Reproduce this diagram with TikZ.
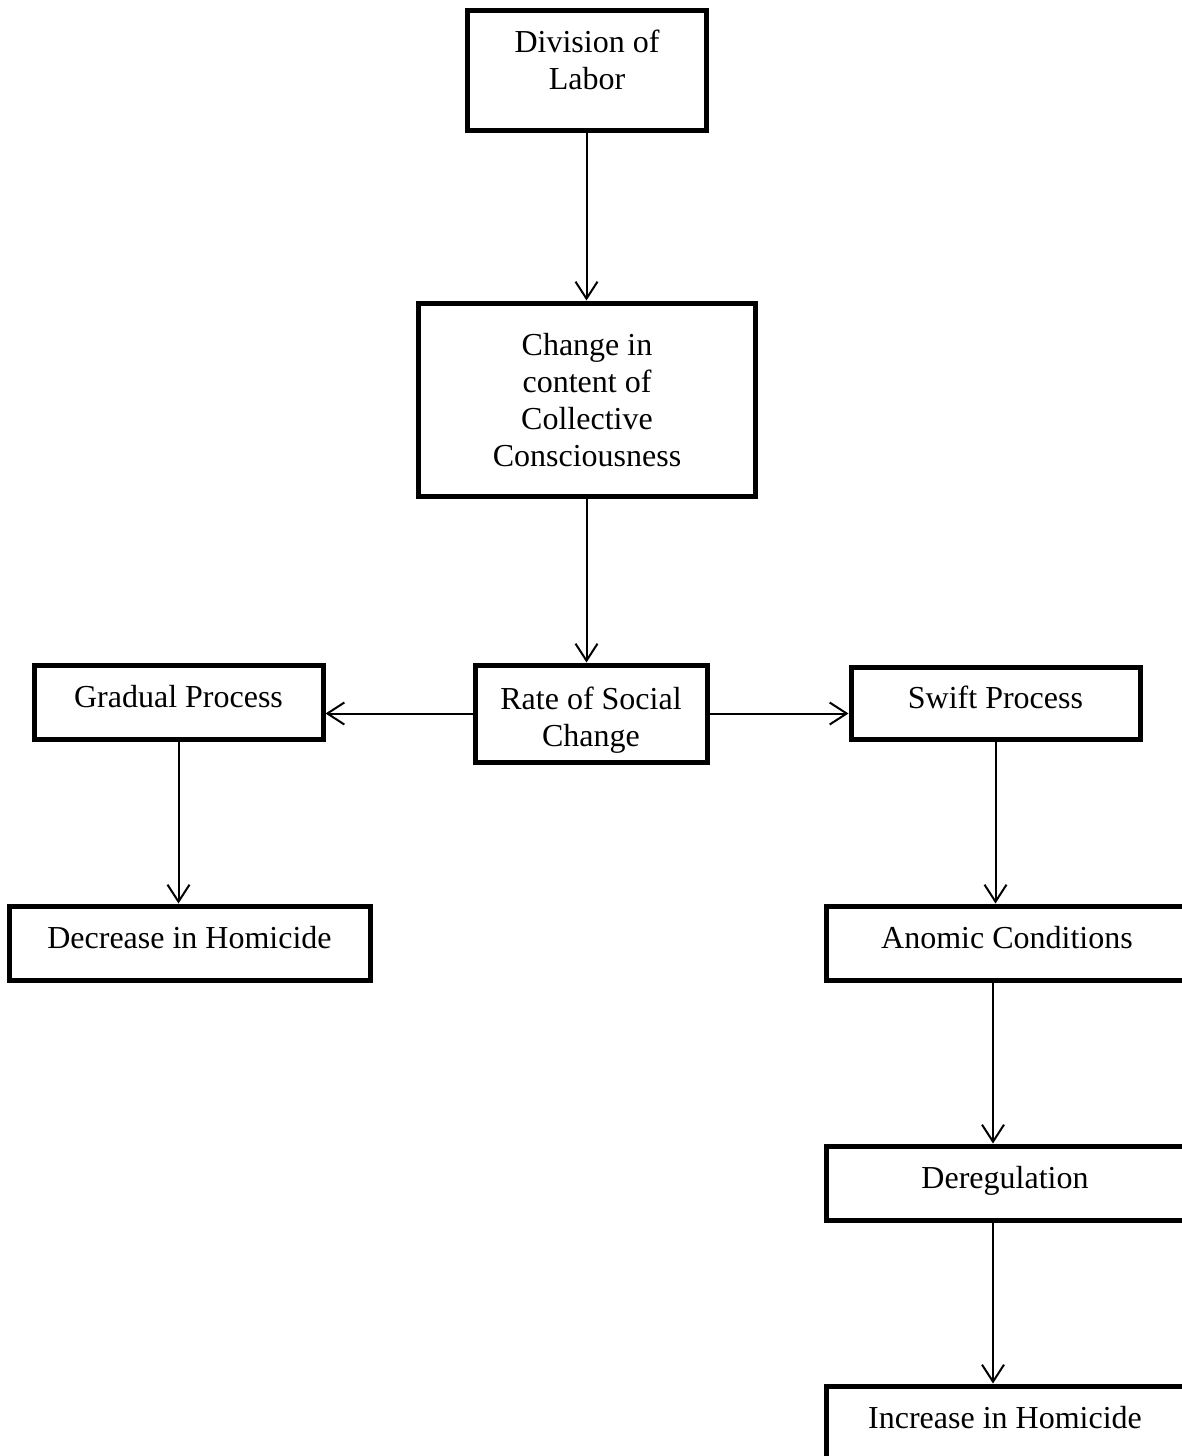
\documentclass[tikz,border=0pt]{standalone}
\usepackage{fontspec}
\setmainfont{Liberation Serif}
\usetikzlibrary{arrows.meta}
\begin{document}
\begin{tikzpicture}[x=1pt,y=-1pt,
  boxnode/.style={draw,line width=5pt,rectangle,inner sep=0pt},
  lbl/.style={align=center,inner sep=0pt,font=\fontsize{32}{37}\selectfont},
  conn/.style={line width=2pt,-{Straight Barb[length=17pt,width=22pt,line width=2pt]}}]
\useasboundingbox (0,0) rectangle (1182,1456);
\clip (0,0) rectangle (1182,1456);
% boxes
\node[boxnode,minimum width=239pt,minimum height=120pt] (div) at (586.5,70) {};
\node[boxnode,minimum width=337pt,minimum height=193pt] (chg) at (586.5,399.5) {};
\node[boxnode,minimum width=232pt,minimum height=97pt] (rate) at (591,713.5) {};
\node[boxnode,minimum width=289pt,minimum height=74pt] (grad) at (178.5,702) {};
\node[boxnode,minimum width=289pt,minimum height=72pt] (swift) at (995.5,703) {};
\node[boxnode,minimum width=361pt,minimum height=74pt] (dec) at (189.5,943) {};
\node[boxnode,minimum width=362pt,minimum height=74pt] (anom) at (1007,943) {};
\node[boxnode,minimum width=362pt,minimum height=74pt] (dereg) at (1007,1183) {};
\node[boxnode,minimum width=362pt,minimum height=74pt] (inc) at (1007,1423) {};
% texts
\node[lbl] (tdiv) at (587,60) {Division of\\Labor};
\node[lbl] (tchg) at (587,400.5) {Change in\\content of\\Collective\\Consciousness};
\node[lbl] (trate) at (591,720) {Rate of Social\\Change};
\node[lbl] (tgrad) at (178.5,697) {Gradual Process};
\node[lbl] (tswift) at (995.5,697) {Swift Process};
\node[lbl] (tdec) at (189.5,938) {Decrease in Homicide};
\node[lbl] (tanom) at (1007,938) {Anomic Conditions};
\node[lbl] (tdereg) at (1005,1181) {Deregulation};
\node[lbl] (tinc) at (1005,1418) {Increase in Homicide};
% connectors
\draw[conn] (div.south) -- (chg.north);
\draw[conn] (chg.south) -- (chg.south |- rate.north);
\draw[conn] (rate.west) -- (rate.west -| grad.east);
\draw[conn] (rate.east) -- (rate.east -| swift.west);
\draw[conn] (grad.south) -- (grad.south |- dec.north);
\draw[conn] (swift.south) -- (swift.south |- anom.north);
\coordinate (a1) at ([xshift=-14pt]anom.south);
\draw[conn] (a1) -- (a1 |- dereg.north);
\coordinate (a2) at ([xshift=-14pt]dereg.south);
\draw[conn] (a2) -- (a2 |- inc.north);
\end{tikzpicture}
\end{document}
